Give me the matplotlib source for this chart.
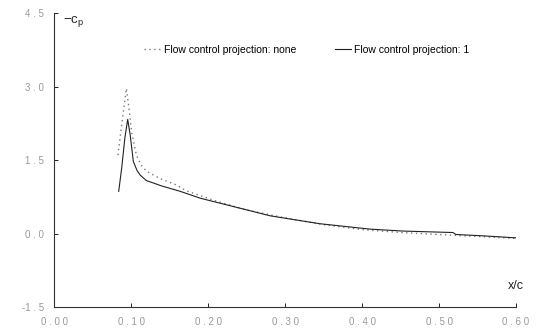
import matplotlib
matplotlib.use("Agg")
import matplotlib.pyplot as plt

# chordwise position and -Cp
x_none = [0.083, 0.087, 0.091, 0.094, 0.097, 0.101, 0.107, 0.113, 0.120, 0.138,
          0.159, 0.172, 0.211, 0.25, 0.30, 0.35, 0.40, 0.45, 0.50, 0.55, 0.60]
cp_none = [1.6, 2.1, 2.6, 2.96, 2.6, 2.05, 1.6, 1.4, 1.27, 1.12,
           0.99, 0.87, 0.66, 0.48, 0.32, 0.18, 0.08, 0.02, -0.02, -0.06, -0.10]

x_one = [0.084, 0.088, 0.092, 0.0957, 0.099, 0.103, 0.108, 0.112, 0.120, 0.14,
         0.164, 0.19, 0.233, 0.281, 0.345, 0.41, 0.453, 0.518, 0.522, 0.56, 0.601]
cp_one = [0.86, 1.35, 1.95, 2.33, 2.0, 1.47, 1.28, 1.19, 1.08, 0.97,
          0.86, 0.72, 0.55, 0.36, 0.20, 0.09, 0.05, 0.02, -0.02, -0.05, -0.09]

x_ticks = [0.0, 0.1, 0.2, 0.3, 0.4, 0.5, 0.6]
y_ticks = [-1.5, 0.0, 1.5, 3.0, 4.5]

plt.rcParams["font.family"] = ["Liberation Sans", "DejaVu Sans"]

fig = plt.figure(figsize=(5.37, 3.32), dpi=100)
ax = fig.add_axes([0.1006, 0.0753, 0.8603, 0.8855])

ax.plot(x_none, cp_none, color="#777777", lw=1.0, linestyle=(0, (1, 2.5)),
        label="Flow control projection: none")
ax.plot(x_one, cp_one, color="#222222", lw=0.8,
        label="Flow control projection: 1")

ax.set_xlim(0.0, 0.6)
ax.set_ylim(-1.5, 4.5)
ax.set_xticks(x_ticks)
ax.set_yticks(y_ticks)
ax.set_xticklabels([" ".join(f"{v:.2f}") for v in x_ticks])
ax.set_yticklabels([" ".join(f"{v:.1f}").replace("- ", "-") for v in y_ticks])
ax.tick_params(direction="in", length=3, width=0.6, labelsize=7,
               labelcolor="#999999", pad=7)

for side in ("top", "right"):
    ax.spines[side].set_visible(False)
for side in ("left", "bottom"):
    ax.spines[side].set_linewidth(0.8)
    ax.spines[side].set_color("#333333")

ax.text(0.02, 0.995, r"$\mathregular{-c_p}$", transform=ax.transAxes,
        fontsize=9.5, va="top", ha="left", color="#222222")
ax.text(1.0, 0.05, "x/c", transform=ax.transAxes, fontsize=9,
        va="bottom", ha="center", color="#222222")

ax.legend(loc="center", bbox_to_anchor=(0.547, 0.874), ncol=2, frameon=False,
          fontsize=7.5, handlelength=1.6, handletextpad=0.3, columnspacing=3.7)

fig.savefig("out.png", dpi=100)
